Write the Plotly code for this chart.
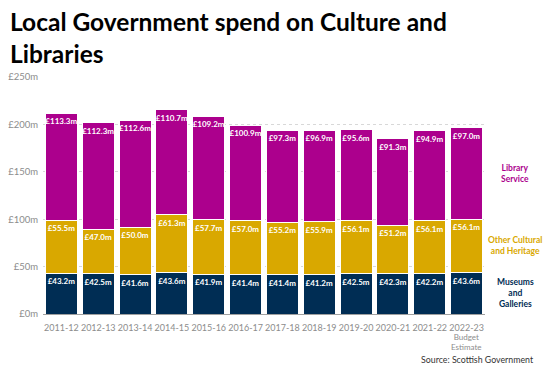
import plotly.graph_objects as go

years = ["2011-12", "2012-13", "2013-14", "2014-15", "2015-16", "2016-17",
         "2017-18", "2018-19", "2019-20", "2020-21", "2021-22", "2022-23"]
last_note = "Budget<br>Estimate"
museums = [43.2, 42.5, 41.6, 43.6, 41.9, 41.4, 41.4, 41.2, 42.5, 42.3, 42.2, 43.6]
other = [55.5, 47.0, 50.0, 61.3, 57.7, 57.0, 55.2, 55.9, 56.1, 51.2, 56.1, 56.1]
library = [113.3, 112.3, 112.6, 110.7, 109.2, 100.9, 97.3, 96.9, 95.6, 91.3, 94.9, 97.0]
y_ticks = [0, 50, 100, 150, 200, 250]

C_MUS = "#002D54"
C_OTH = "#D9A800"
C_LIB = "#AC008D"
FONT = "Lato"

fig = go.Figure()
for name, vals, col in [("Museums and Galleries", museums, C_MUS),
                        ("Other Cultural and Heritage", other, C_OTH),
                        ("Library Service", library, C_LIB)]:
    fig.add_trace(go.Bar(
        x=years, y=vals, name=name,
        marker=dict(color=col, line=dict(color="white", width=1)),
        text=[f"£{v:.1f}m" for v in vals],
        textposition="inside", insidetextanchor="end",
        textangle=0, constraintext="none",
        textfont=dict(family=FONT, size=8, color="white", weight="bold"),
        showlegend=False,
    ))

fig.update_layout(
    barmode="stack", bargap=0.13,
    width=553, height=374,
    margin=dict(l=35, r=76, t=69, b=68),
    paper_bgcolor="white", plot_bgcolor="white",
    font=dict(family=FONT, color="#8c8c8c", size=10),
)
fig.update_xaxes(type="category", tickangle=0, automargin=False, ticklabelstandoff=5,
                 showgrid=False, showline=True, linecolor="#a0a0a0", linewidth=1,
                 ticks="", tickfont=dict(size=9, color="#8c8c8c"))
fig.update_yaxes(range=[0, 250], tickvals=y_ticks, ticktext=[f"£{v}m" for v in y_ticks],
                 automargin=False, ticklabelstandoff=4,
                 showgrid=True, gridcolor="#d8d8d8", griddash="dot", gridwidth=1,
                 zeroline=False, showline=False, ticks="",
                 tickfont=dict(size=9.5, color="#8c8c8c"))

# note under last category
fig.add_annotation(x=years[-1], xref="x", y=-0.12, yref="paper", text=last_note,
                   showarrow=False, xanchor="center", yanchor="middle",
                   font=dict(family=FONT, size=8, color="#8c8c8c"), align="center")

# title
fig.add_annotation(x=-0.079, xref="paper", y=1.305, yref="paper",
                   text="<b>Local Government spend on Culture and<br>Libraries</b>",
                   showarrow=False, xanchor="left", yanchor="top", align="left",
                   font=dict(family=FONT, size=24.5, color="black"))

for txt, yv, col in [("Library<br>Service", 148, C_LIB),
                     ("Other Cultural<br>and Heritage", 72, C_OTH),
                     ("Museums<br>and<br>Galleries", 22, C_MUS)]:
    fig.add_annotation(x=1.068, xref="paper", y=yv, yref="y", text=f"<b>{txt}</b>",
                       showarrow=False, xanchor="center", yanchor="middle",
                       font=dict(family=FONT, size=8.5, color=col), align="center")

fig.add_annotation(x=1.116, xref="paper", y=-0.19, yref="paper", text="Source: Scottish Government",
                   showarrow=False, xanchor="right", yanchor="middle",
                   font=dict(family=FONT, size=8.8, color="#333333"))

fig.write_html("out.html")
